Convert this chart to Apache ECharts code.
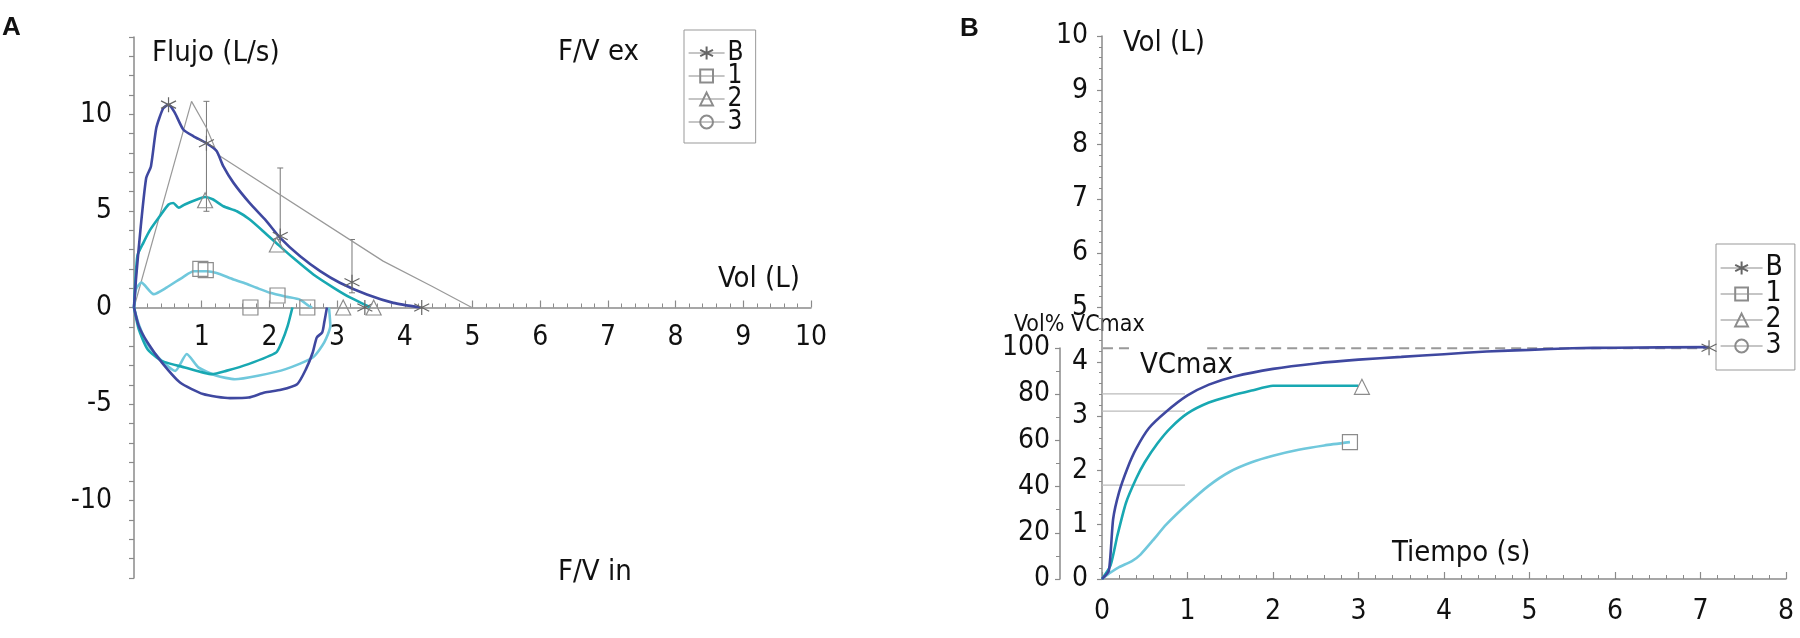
<!DOCTYPE html>
<html>
<head>
<meta charset="utf-8">
<script src="https://cdn.jsdelivr.net/npm/echarts@6/dist/echarts.min.js"></script>
<style>
  html, body { margin: 0; padding: 0; background: #fff; }
  #main { width: 1800px; height: 638px; }
</style>
</head>
<body>
<div id="main"></div>
<script>
// ---- Panel A: flujo / volumen  [Vol (L), Flujo (L/s)] ----
var expB = [[0,0],[0.03,1.5],[0.1,4.2],[0.18,6.7],[0.25,7.3],[0.33,9.3],[0.43,10.3],[0.51,10.5],[0.6,10.1],[0.73,9.2],[0.88,8.86],[1.07,8.5],[1.22,8.1],[1.32,7.3],[1.47,6.45],[1.71,5.4],[1.95,4.5],[2.16,3.6],[2.45,2.66],[2.75,1.88],[3.04,1.28],[3.44,0.67],[3.83,0.24],[4.23,0]];
var exp2 = [[0,0],[0.05,2.67],[0.14,3.36],[0.24,4.03],[0.38,4.72],[0.51,5.33],[0.58,5.41],[0.66,5.16],[0.75,5.33],[0.93,5.59],[1.05,5.72],[1.17,5.59],[1.32,5.24],[1.52,4.98],[1.71,4.55],[1.96,3.78],[2.11,3.31],[2.35,2.57],[2.65,1.71],[2.95,1.02],[3.19,0.52],[3.44,0.09],[3.49,0]];
var exp1 = [[0,0],[0.03,0.95],[0.11,1.29],[0.29,0.69],[0.48,1.03],[0.73,1.59],[0.88,1.88],[1.07,1.88],[1.22,1.79],[1.47,1.45],[1.62,1.28],[1.81,1.02],[2.01,0.76],[2.26,0.55],[2.45,0.41],[2.58,0.09],[2.63,0]];
var inspB = [[0,0],[0.07,-0.95],[0.2,-1.81],[0.41,-2.84],[0.68,-3.88],[1.02,-4.48],[1.42,-4.69],[1.69,-4.66],[1.93,-4.4],[2.17,-4.26],[2.41,-3.97],[2.54,-3.19],[2.64,-2.33],[2.7,-1.55],[2.78,-1.29],[2.81,-0.78],[2.85,0]];
var insp2 = [[0,0],[0.07,-1.12],[0.2,-2.16],[0.41,-2.76],[0.75,-3.1],[1.15,-3.45],[1.36,-3.28],[1.69,-2.93],[2.1,-2.33],[2.18,-1.81],[2.27,-0.95],[2.34,0]];
var insp1 = [[0,0],[0.07,-0.86],[0.2,-1.9],[0.41,-2.76],[0.61,-3.28],[0.78,-2.41],[0.95,-3.1],[1.22,-3.53],[1.49,-3.71],[1.83,-3.53],[2.24,-3.19],[2.64,-2.59],[2.81,-1.81],[2.9,-0.95],[2.88,0]];
var predicted = [[0,0],[0.85,10.67],[1.07,9.3],[1.24,7.9],[3.68,2.4],[4.4,1.1],[4.99,0]];
// [vol, low, high]
var errBars = [[1.07,4.98,10.67],[2.16,3.52,7.22],[3.22,0.76,3.52]];
var markB_A = [[0.51,10.5],[1.07,8.5],[2.16,3.7],[3.22,1.31],[3.41,0],[4.25,0]];
var mark1_A = [[0.98,2.0],[1.06,1.93],[1.72,0],[2.12,0.62],[2.56,0]];
var mark2_A = [[1.05,5.55],[2.11,3.26],[3.09,0],[3.54,0]];

// ---- Panel B: volumen / tiempo  [Tiempo (s), Vol (L)] ----
var timeB = [[0,0],[0.08,0.15],[0.13,1.1],[0.2,1.6],[0.3,2.05],[0.4,2.4],[0.55,2.78],[0.75,3.08],[1.0,3.38],[1.25,3.58],[1.55,3.73],[2.0,3.87],[2.5,3.97],[3.0,4.04],[3.5,4.09],[4.0,4.14],[4.5,4.19],[5.0,4.22],[5.5,4.25],[6.0,4.26],[7.1,4.27]];
var time2 = [[0,0],[0.1,0.25],[0.18,0.8],[0.28,1.4],[0.4,1.85],[0.5,2.15],[0.65,2.5],[0.8,2.78],[1.0,3.05],[1.25,3.25],[1.5,3.37],[1.75,3.47],[2.0,3.56],[3.0,3.56]];
var time1 = [[0,0],[0.1,0.12],[0.2,0.22],[0.35,0.33],[0.45,0.45],[0.6,0.72],[0.75,1.0],[1.0,1.38],[1.25,1.72],[1.5,1.98],[1.75,2.15],[2.0,2.27],[2.3,2.38],[2.6,2.46],[2.9,2.52]];
var markB_B = [[7.1,4.26]];
var mark1_B = [[2.9,2.52]];
var mark2_B = [[3.04,3.54]];
var vcmax = 4.25;
var fev1 = [3.41, 3.09, 1.73];

var legendNames = ['B', '1', '2', '3'];

var FONT = "'Liberation Sans Narrow', 'Arial Narrow', 'DejaVu Sans Condensed', sans-serif";
var AXIS = '#8a8a8a';
var MARK = '#8c8c8c';
var C_B = '#3f48a0', C_2 = '#18a8b2', C_1 = '#70c8dc';
var ASTER = 'path://M8,0L8,16M1,4L15,12M1,12L15,4';

var myChart = echarts.init(document.getElementById('main'));

function curve(data, color, grid) {
    return {
        type: 'line', data: data, xAxisIndex: grid, yAxisIndex: grid,
        showSymbol: false, smooth: 0.2, silent: true,
        lineStyle: { color: color, width: 2.6 }
    };
}
function thin(data, grid, kind) {
    var st = { color: '#bbbbbb', width: 1.2, type: 'solid' };
    if (kind === 'dash') st = { color: '#999', width: 2, type: [10, 6] };
    if (kind === 'pred') st = { color: '#999', width: 1.2, type: 'solid' };
    return {
        type: 'line', data: data, xAxisIndex: grid, yAxisIndex: grid,
        showSymbol: false, silent: true, clip: false, lineStyle: st
    };
}
function marks(name, data, symbol, grid) {
    return {
        name: name, type: 'line', data: data, xAxisIndex: grid, yAxisIndex: grid,
        symbol: symbol, symbolSize: 15, showAllSymbol: true, z: 5,
        lineStyle: { opacity: 0 },
        itemStyle: { color: 'rgba(0,0,0,0)', borderColor: name === 'B' ? '#666' : MARK, borderWidth: 1.2 }
    };
}
function axisCommon() {
    return {
        type: 'value', splitLine: { show: false },
        axisLine: { show: true, onZero: false, lineStyle: { color: AXIS, width: 1.5 } },
        axisTick: { show: true, length: 5, lineStyle: { color: AXIS, width: 1.2 } },
        minorTick: { show: true, length: 4, lineStyle: { color: AXIS, width: 1 } },
        axisLabel: { color: '#111', fontSize: 28, fontFamily: FONT }
    };
}

// grid A: top 37, height 541, y range -14..14 -> zero line 270.5 px above the bottom
var xA = axisCommon();
xA.gridIndex = 0; xA.min = 0; xA.max = 10; xA.interval = 1;
xA.position = 'bottom'; xA.offset = -270.5;
xA.axisTick.inside = true; xA.axisTick.length = 7;
xA.minorTick.splitNumber = 5;
xA.axisLabel.margin = 16;
xA.axisLabel.formatter = function (v) { return v === 0 ? '' : v; };

var yA = axisCommon();
yA.gridIndex = 0; yA.min = -14; yA.max = 14; yA.interval = 1;
yA.minorTick.show = false;
yA.axisLabel.margin = 22;
yA.axisLabel.formatter = function (v) { return v % 5 === 0 ? v : ''; };

var xB = axisCommon();
xB.gridIndex = 1; xB.min = 0; xB.max = 8; xB.interval = 1;
xB.axisTick.inside = true; xB.axisTick.length = 7;
xB.minorTick.splitNumber = 5;
xB.axisLabel.margin = 19;

var yB = axisCommon();
yB.gridIndex = 1; yB.min = 0; yB.max = 10; yB.interval = 1;
yB.minorTick.splitNumber = 5; yB.minorTick.length = 3;
yB.axisLabel.margin = 14;

var yP = axisCommon();
yP.gridIndex = 2; yP.min = 0; yP.max = 100; yP.interval = 20;
yP.minorTick.splitNumber = 2;
yP.axisLabel.margin = 10;

function legendAt(left, top, fs, lh, iw, gap, pad) {
    return {
        orient: 'vertical', left: left, top: top, data: legendNames,
        itemWidth: iw, itemHeight: 16, itemGap: gap, padding: pad,
        borderColor: '#999', borderWidth: 1, selectedMode: false,
        lineStyle: { color: MARK, width: 1.2, opacity: 1 },
        textStyle: { fontSize: fs, lineHeight: lh, fontFamily: FONT, color: '#111', padding: [0, 0, 0, -2] }
    };
}

function txt(x, y, text, size, align, bold) {
    return {
        type: 'text', x: x, y: y, silent: true,
        style: {
            text: text, fill: '#111', textAlign: align || 'left', textVerticalAlign: 'middle',
            font: (bold ? 'bold ' : '') + size + 'px ' + (bold ? "'Liberation Sans', sans-serif" : FONT)
        }
    };
}

var errSeries = {
    type: 'custom', xAxisIndex: 0, yAxisIndex: 0, data: errBars, silent: true, z: 3,
    renderItem: function (params, api) {
        var lo = api.coord([api.value(0), api.value(1)]);
        var hi = api.coord([api.value(0), api.value(2)]);
        var st = { stroke: '#777', lineWidth: 1 };
        return {
            type: 'group', children: [
                { type: 'line', shape: { x1: lo[0], y1: lo[1], x2: hi[0], y2: hi[1] }, style: st },
                { type: 'line', shape: { x1: hi[0] - 3, y1: hi[1], x2: hi[0] + 3, y2: hi[1] }, style: st },
                { type: 'line', shape: { x1: lo[0] - 3, y1: lo[1], x2: lo[0] + 3, y2: lo[1] }, style: st }
            ]
        };
    }
};

var option = {
    animation: false,
    backgroundColor: '#fff',
    grid: [
        { left: 134, top: 37, width: 677, height: 541 },
        { left: 1102, top: 36, width: 684, height: 543 },
        { left: 1060, top: 348, width: 1, height: 231 }
    ],
    xAxis: [xA, xB, { gridIndex: 2, type: 'value', show: false, min: 0, max: 1 }],
    yAxis: [yA, yB, yP],
    legend: [
        legendAt(684, 30, 26, 22, 36, -3, [10, 12, 8, 4]),
        legendAt(1716, 244, 28, 26, 42, -2, [10, 12, 10, 4])
    ],
    graphic: [
        txt(2, 28, 'A', 26, 'left', true),
        txt(152, 53, 'Flujo (L/s)', 29),
        txt(558, 52, 'F/V ex', 29),
        txt(800, 279, 'Vol (L)', 29, 'right'),
        txt(558, 572, 'F/V in', 29),
        txt(960, 29, 'B', 26, 'left', true),
        txt(1123, 43, 'Vol (L)', 29),
        txt(1014, 325, 'Vol% VCmax', 23),
        txt(1140, 365, 'VCmax', 29),
        txt(1392, 553, 'Tiempo (s)', 29)
    ],
    series: [
        thin(predicted, 0, 'pred'),
        errSeries,
        curve(exp1, C_1, 0), curve(insp1, C_1, 0),
        curve(exp2, C_2, 0), curve(insp2, C_2, 0),
        curve(expB, C_B, 0), curve(inspB, C_B, 0),
        marks('B', markB_A, ASTER, 0),
        marks('1', mark1_A, 'rect', 0),
        marks('2', mark2_A, 'triangle', 0),
        marks('3', [], 'circle', 0),

        thin([[-0.55, vcmax], [0.36, vcmax]], 1, 'dash'),
        thin([[1.23, vcmax], [7.1, vcmax]], 1, 'dash'),
        thin([[0, fev1[0]], [0.97, fev1[0]]], 1),
        thin([[0, fev1[1]], [0.97, fev1[1]]], 1),
        thin([[0, fev1[2]], [0.97, fev1[2]]], 1),
        curve(time1, C_1, 1),
        curve(time2, C_2, 1),
        curve(timeB, C_B, 1),
        marks('B', markB_B, ASTER, 1),
        marks('1', mark1_B, 'rect', 1),
        marks('2', mark2_B, 'triangle', 1)
    ]
};

myChart.setOption(option);
</script>
</body>
</html>
